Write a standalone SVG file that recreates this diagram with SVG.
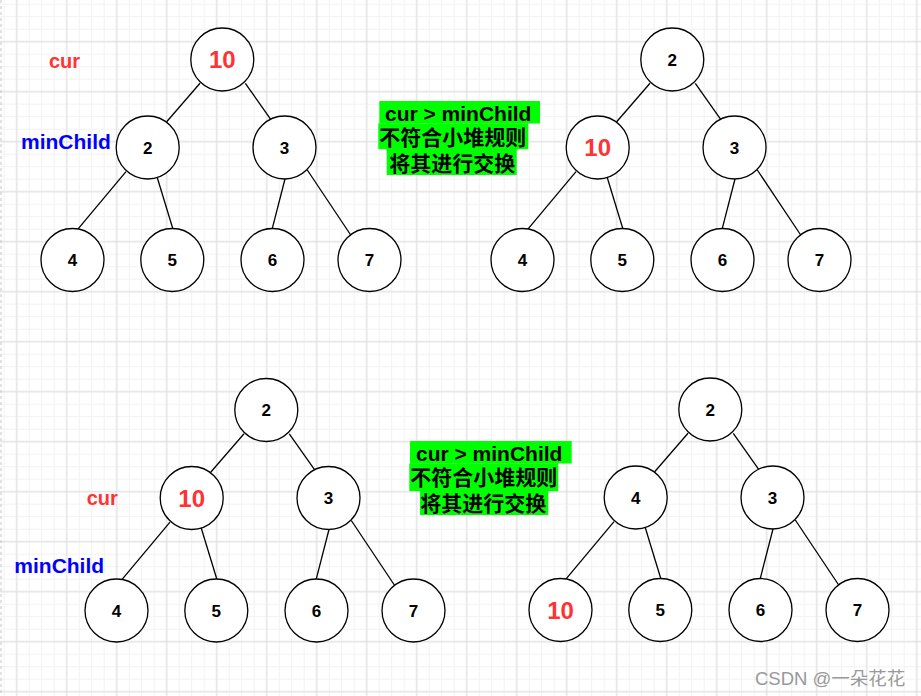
<svg xmlns="http://www.w3.org/2000/svg" width="921" height="696" viewBox="0 0 921 696">
<defs>
<pattern id="minor" width="12.5" height="12.5" patternUnits="userSpaceOnUse" x="10.42" y="35.42"><path d="M6.25 0V12.5M0 6.25H12.5" stroke="#f2f2f2" stroke-width="1" fill="none"/></pattern>
<pattern id="major" width="50" height="50" patternUnits="userSpaceOnUse" x="-8.33" y="16.67"><path d="M25 0V50M0 25H50" stroke="#dcdcdc" stroke-width="1" fill="none"/></pattern>
</defs>
<style>
.n circle{fill:#fff;stroke:#000;stroke-width:1.3}
.n text{font-family:"Liberation Sans",Arial,sans-serif;font-weight:bold;font-size:17px;text-anchor:middle;fill:#000}
.n text.red{font-size:24px;fill:#ff3333}
#connectors line{stroke:#000;stroke-width:1.3}
.lbl{font-family:"Liberation Sans",Arial,sans-serif;font-weight:bold}
.cur{fill:#ff3333;font-size:20px}
.mc{fill:#0000ff;font-size:21px}
.g rect{fill:#00ff00}
.g text{font-family:"Liberation Sans","Noto Sans CJK SC",sans-serif;font-weight:bold;font-size:21px;fill:#000}
</style>
<rect width="921" height="696" fill="#fff"/>
<rect width="921" height="696" fill="url(#minor)"/>
<rect width="921" height="696" fill="url(#major)"/>
<line x1="1" y1="0" x2="1" y2="696" stroke="#c4c4c4" stroke-width="1" stroke-dasharray="3 3"/>

<g id="connectors">
<line x1="200" y1="83.3" x2="166.7" y2="121.7"/>
<line x1="245.3" y1="83.3" x2="270.7" y2="119.3"/>
<line x1="126" y1="171.7" x2="77.7" y2="229.3"/>
<line x1="157" y1="176.7" x2="172.7" y2="228.3"/>
<line x1="285" y1="179" x2="272.3" y2="228.3"/>
<line x1="307.3" y1="170" x2="350.7" y2="235"/>

<line x1="650" y1="83.3" x2="616.7" y2="121.7"/>
<line x1="695.3" y1="83.3" x2="720.7" y2="119.3"/>
<line x1="576" y1="171.7" x2="527.7" y2="229.3"/>
<line x1="607" y1="176.7" x2="622.7" y2="228.3"/>
<line x1="735" y1="179" x2="722.3" y2="228.3"/>
<line x1="757.3" y1="170" x2="800.7" y2="235"/>

<line x1="244" y1="433.8" x2="210.7" y2="472.2"/>
<line x1="289.3" y1="433.8" x2="314.7" y2="469.8"/>
<line x1="170" y1="522.2" x2="121.7" y2="579.8"/>
<line x1="201" y1="527.2" x2="216.7" y2="578.8"/>
<line x1="329" y1="529.5" x2="316.3" y2="578.8"/>
<line x1="351.3" y1="520.5" x2="394.7" y2="585.5"/>

<line x1="688" y1="433.3" x2="654.7" y2="471.7"/>
<line x1="733.3" y1="433.3" x2="758.7" y2="469.3"/>
<line x1="614" y1="521.7" x2="565.7" y2="579.3"/>
<line x1="645" y1="526.7" x2="660.7" y2="578.3"/>
<line x1="773" y1="529" x2="760.3" y2="578.3"/>
<line x1="795.3" y1="520" x2="838.7" y2="585"/>
</g>

<!-- Tree 1 -->
<g id="t1-root" class="n"><circle cx="222.3" cy="59.5" r="31.5"/><text class="red" x="222.3" y="68.2">10</text></g>
<g id="t1-a" class="n"><circle cx="147.7" cy="147.5" r="31.5"/><text x="147.7" y="153.7">2</text></g>
<g id="t1-b" class="n"><circle cx="284.5" cy="147.5" r="31.5"/><text x="284.5" y="153.7">3</text></g>
<g id="t1-l1" class="n"><circle cx="72.5" cy="260" r="31.5"/><text x="72.5" y="266.2">4</text></g>
<g id="t1-l2" class="n"><circle cx="172.3" cy="260" r="31.5"/><text x="172.3" y="266.2">5</text></g>
<g id="t1-l3" class="n"><circle cx="272.5" cy="260" r="31.5"/><text x="272.5" y="266.2">6</text></g>
<g id="t1-l4" class="n"><circle cx="369.5" cy="260" r="31.5"/><text x="369.5" y="266.2">7</text></g>

<!-- Tree 2 -->
<g id="t2-root" class="n"><circle cx="672.3" cy="59.5" r="31.5"/><text x="672.3" y="65.7">2</text></g>
<g id="t2-a" class="n"><circle cx="597.7" cy="147.5" r="31.5"/><text class="red" x="597.7" y="156.2">10</text></g>
<g id="t2-b" class="n"><circle cx="734.5" cy="147.5" r="31.5"/><text x="734.5" y="153.7">3</text></g>
<g id="t2-l1" class="n"><circle cx="522.5" cy="260" r="31.5"/><text x="522.5" y="266.2">4</text></g>
<g id="t2-l2" class="n"><circle cx="622.3" cy="260" r="31.5"/><text x="622.3" y="266.2">5</text></g>
<g id="t2-l3" class="n"><circle cx="722.5" cy="260" r="31.5"/><text x="722.5" y="266.2">6</text></g>
<g id="t2-l4" class="n"><circle cx="819.5" cy="260" r="31.5"/><text x="819.5" y="266.2">7</text></g>

<!-- Tree 3 -->
<g id="t3-root" class="n"><circle cx="266.3" cy="410" r="31.5"/><text x="266.3" y="416.2">2</text></g>
<g id="t3-a" class="n"><circle cx="191.7" cy="498" r="31.5"/><text class="red" x="191.7" y="506.7">10</text></g>
<g id="t3-b" class="n"><circle cx="328.5" cy="498" r="31.5"/><text x="328.5" y="504.2">3</text></g>
<g id="t3-l1" class="n"><circle cx="116.5" cy="610.5" r="31.5"/><text x="116.5" y="616.7">4</text></g>
<g id="t3-l2" class="n"><circle cx="216.3" cy="610.5" r="31.5"/><text x="216.3" y="616.7">5</text></g>
<g id="t3-l3" class="n"><circle cx="316.5" cy="610.5" r="31.5"/><text x="316.5" y="616.7">6</text></g>
<g id="t3-l4" class="n"><circle cx="413.5" cy="610.5" r="31.5"/><text x="413.5" y="616.7">7</text></g>

<!-- Tree 4 -->
<g id="t4-root" class="n"><circle cx="710.3" cy="409.5" r="31.5"/><text x="710.3" y="415.7">2</text></g>
<g id="t4-a" class="n"><circle cx="635.7" cy="497.5" r="31.5"/><text x="635.7" y="503.7">4</text></g>
<g id="t4-b" class="n"><circle cx="772.5" cy="497.5" r="31.5"/><text x="772.5" y="503.7">3</text></g>
<g id="t4-l1" class="n"><circle cx="560.5" cy="610" r="31.5"/><text class="red" x="560.5" y="618.7">10</text></g>
<g id="t4-l2" class="n"><circle cx="660.3" cy="610" r="31.5"/><text x="660.3" y="616.2">5</text></g>
<g id="t4-l3" class="n"><circle cx="760.5" cy="610" r="31.5"/><text x="760.5" y="616.2">6</text></g>
<g id="t4-l4" class="n"><circle cx="857.5" cy="610" r="31.5"/><text x="857.5" y="616.2">7</text></g>

<!-- labels -->
<g id="labels">
<text class="lbl cur" x="49" y="68">cur</text>
<text class="lbl mc" x="21" y="149">minChild</text>
<text class="lbl cur" x="86.7" y="505">cur</text>
<text class="lbl mc" x="14.3" y="573.3">minChild</text>
</g>

<g id="note-top" class="g">
<rect x="379.3" y="101" width="160.7" height="22.5"/>
<rect x="378.3" y="123.3" width="150" height="25.9"/>
<rect x="386.7" y="149" width="130" height="26"/>
<text x="385" y="120.7">cur &gt; minChild</text>
<text x="379.3" y="145">不符合小堆规则</text>
<text x="389.3" y="171">将其进行交换</text>
</g>

<g id="note-bottom" class="g">
<rect x="410" y="441" width="161.7" height="22.5"/>
<rect x="409.3" y="463.3" width="149" height="27.9"/>
<rect x="420" y="491" width="128.3" height="24"/>
<text x="416" y="460.7">cur &gt; minChild</text>
<text x="410.3" y="485">不符合小堆规则</text>
<text x="420.3" y="511">将其进行交换</text>
</g>

<text id="watermark" x="755" y="685" font-family="Liberation Sans,'Noto Sans CJK SC',sans-serif" font-size="18.5" fill="#999">CSDN @一朵花花</text>
</svg>
